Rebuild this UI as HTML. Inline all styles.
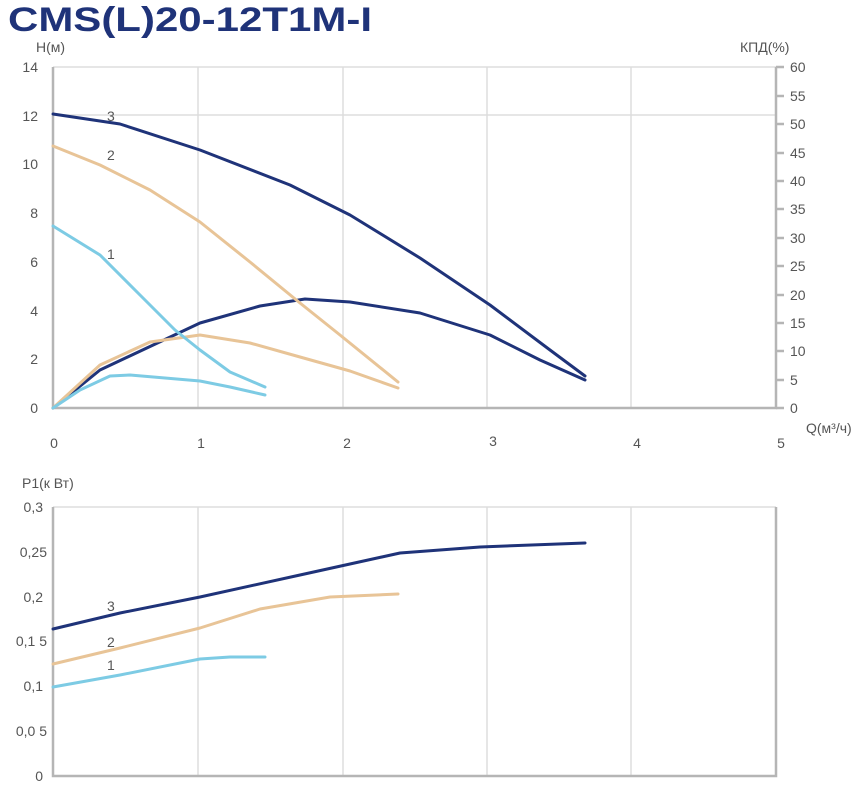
<!DOCTYPE html><html><head><meta charset="utf-8"><style>body{margin:0;background:#fff}svg{display:block}text{font-family:"Liberation Sans",sans-serif;fill:#555;font-size:14px}</style></head><body>
<svg width="868" height="787" viewBox="0 0 868 787">
<text x="8" y="31" textLength="364" lengthAdjust="spacingAndGlyphs" style="font-size:34px;font-weight:bold;fill:#1f3379">CMS(L)20-12T1M-I</text>
<g stroke="#ddd" stroke-width="1.5" fill="none">
<path d="M198 67V408M343 67V408M487 67V408M631 67V408M53 67H776M53 115H776"/>
<path d="M198 507V776M343 507V776M487 507V776M631 507V776M53 507H776"/>
</g>
<g stroke="#b5b5b5" stroke-width="2.5" fill="none">
<path d="M53 67V408H776V67"/>
<path d="M53 507V776H776V507"/>
<path d="M776 408h8M776 380h8M776 351h8M776 323h8M776 295h8M776 266h8M776 238h8M776 209h8M776 181h8M776 153h8M776 124h8M776 96h8M776 67h8"/>
</g>
<text x="36" y="52">H(м)</text><text x="740" y="52">КПД(%)</text>
<g text-anchor="end"><text x="38" y="72">14</text><text x="38" y="121">12</text><text x="38" y="169">10</text><text x="38" y="218">8</text><text x="38" y="267">6</text><text x="38" y="316">4</text><text x="38" y="364">2</text><text x="38" y="413">0</text></g>
<g><text x="790" y="72">60</text><text x="790" y="101">55</text><text x="790" y="129">50</text><text x="790" y="158">45</text><text x="790" y="186">40</text><text x="790" y="214">35</text><text x="790" y="243">30</text><text x="790" y="271">25</text><text x="790" y="300">20</text><text x="790" y="328">15</text><text x="790" y="356">10</text><text x="790" y="385">5</text><text x="790" y="413">0</text></g>
<g text-anchor="middle"><text x="54" y="448">0</text><text x="201" y="448">1</text><text x="347" y="448">2</text><text x="493" y="446">3</text><text x="637" y="448">4</text><text x="781" y="448">5</text></g>
<text x="806" y="433">Q(м³/ч)</text>
<text x="22" y="488">P1(к Вт)</text>
<g text-anchor="end"><text x="43" y="512">0,3</text><text x="47" y="557">0,25</text><text x="43" y="602">0,2</text><text x="47" y="646">0,1 5</text><text x="43" y="691">0,1</text><text x="47" y="736">0,0 5</text><text x="43" y="781">0</text></g>
<g fill="none" stroke-width="3" stroke-linecap="round" stroke-linejoin="round">
<polyline stroke="#1f3379" points="53,114 120,124 200,150 290,185 350,215 420,258 490,305 550,350 585,376"/>
<polyline stroke="#1f3379" points="53,408 100,370 200,323 260,306 305,299 350,302 420,313 490,335 540,360 585,380"/>
<polyline stroke="#e8c497" points="53,146 100,165 150,190 200,222 250,262 300,303 340,335 398,382"/>
<polyline stroke="#e8c497" points="53,408 100,365 150,342 200,335 250,343 300,357 350,371 398,388"/>
<polyline stroke="#7dcbe4" points="53,226 100,255 140,295 175,330 200,350 230,372 265,387"/>
<polyline stroke="#7dcbe4" points="53,408 80,390 110,376 130,375 200,381 230,387 265,395"/>
<polyline stroke="#1f3379" points="53,629 120,613 200,597 300,575 400,553 480,547 585,543"/>
<polyline stroke="#e8c497" points="53,664 120,648 200,628 260,609 330,597 398,594"/>
<polyline stroke="#7dcbe4" points="53,687 120,675 200,659 230,657 265,657"/>
</g>
<text x="107" y="121">3</text><text x="107" y="160">2</text><text x="107" y="259">1</text>
<text x="107" y="611">3</text><text x="107" y="647">2</text><text x="107" y="670">1</text>
</svg></body></html>
